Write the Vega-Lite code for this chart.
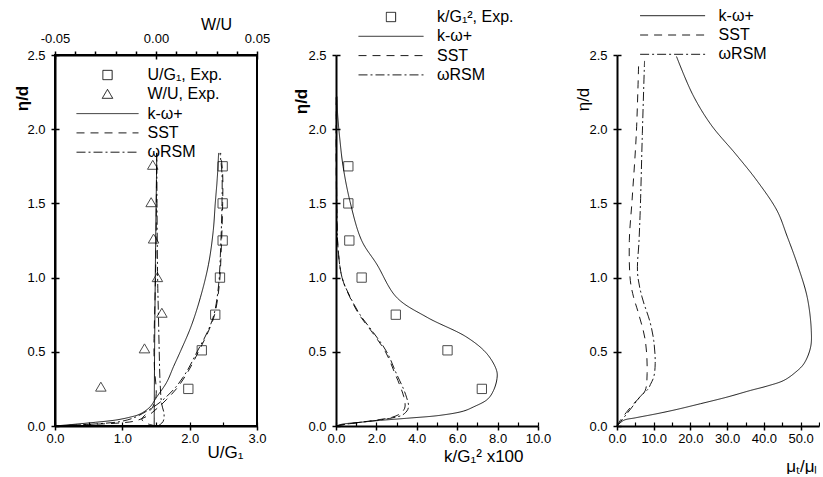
{
  "$schema": "https://vega.github.io/schema/vega-lite/v6.json",
  "padding": {"left": 12, "top": 8, "right": 0, "bottom": 0},
  "config": {
    "font": "Liberation Sans",
    "view": {"stroke": null},
    "axis": {"domainColor": "black", "domainWidth": 2, "tickColor": "black", "tickWidth": 1.5, "labelColor": "black", "labelFontSize": 13, "titleColor": "black", "grid": false, "labelPadding": 6, "labelFlush": false, "titleFontWeight": "normal"},
    "axisBottom": {"labelPadding": 2.5},
    "legend": {"labelFontSize": 16, "labelColor": "black", "symbolStrokeColor": "black", "symbolStrokeWidth": 1, "padding": 0, "clipHeight": 15, "rowPadding": 2.3},
    "line": {"color": "black", "strokeWidth": 0.9, "interpolate": "catmull-rom"},
    "point": {"color": "black", "filled": false, "strokeWidth": 1}
  },
  "resolve": {
    "scale": {"shape": "independent", "strokeDash": "independent", "size": "independent"},
    "legend": {"shape": "independent", "strokeDash": "independent", "size": "independent"}
  },
  "datasets": {
    "u_exp": [
      {"series": "U/G₁, Exp.", "eta": 0.25, "u": 1.98},
      {"series": "U/G₁, Exp.", "eta": 0.51, "u": 2.18},
      {"series": "U/G₁, Exp.", "eta": 0.75, "u": 2.38},
      {"series": "U/G₁, Exp.", "eta": 1.0, "u": 2.45},
      {"series": "U/G₁, Exp.", "eta": 1.25, "u": 2.49},
      {"series": "U/G₁, Exp.", "eta": 1.5, "u": 2.49},
      {"series": "U/G₁, Exp.", "eta": 1.75, "u": 2.49}
    ],
    "w_exp": [
      {"series": "W/U, Exp.", "eta": 0.262, "w": -0.0273},
      {"series": "W/U, Exp.", "eta": 0.52, "w": -0.0057},
      {"series": "W/U, Exp.", "eta": 0.76, "w": 0.0029},
      {"series": "W/U, Exp.", "eta": 1.0, "w": 0.0007},
      {"series": "W/U, Exp.", "eta": 1.26, "w": -0.0012},
      {"series": "W/U, Exp.", "eta": 1.505, "w": -0.0024},
      {"series": "W/U, Exp.", "eta": 1.757, "w": -0.0016}
    ],
    "u_model": [
      {"series": "k-ω+", "eta": 0, "u": 0},
      {"series": "k-ω+", "eta": 0.012, "u": 0.3},
      {"series": "k-ω+", "eta": 0.025, "u": 0.6},
      {"series": "k-ω+", "eta": 0.04, "u": 0.9},
      {"series": "k-ω+", "eta": 0.058, "u": 1.1},
      {"series": "k-ω+", "eta": 0.08, "u": 1.26},
      {"series": "k-ω+", "eta": 0.128, "u": 1.41},
      {"series": "k-ω+", "eta": 0.195, "u": 1.51},
      {"series": "k-ω+", "eta": 0.296, "u": 1.66},
      {"series": "k-ω+", "eta": 0.4, "u": 1.76},
      {"series": "k-ω+", "eta": 0.5, "u": 1.86},
      {"series": "k-ω+", "eta": 0.67, "u": 2.02},
      {"series": "k-ω+", "eta": 0.867, "u": 2.16},
      {"series": "k-ω+", "eta": 1.09, "u": 2.28},
      {"series": "k-ω+", "eta": 1.315, "u": 2.35},
      {"series": "k-ω+", "eta": 1.5, "u": 2.38},
      {"series": "k-ω+", "eta": 1.67, "u": 2.41},
      {"series": "k-ω+", "eta": 1.84, "u": 2.43},
      {"series": "SST", "eta": 0, "u": 0},
      {"series": "SST", "eta": 0.01, "u": 0.5},
      {"series": "SST", "eta": 0.022, "u": 1.0},
      {"series": "SST", "eta": 0.035, "u": 1.2},
      {"series": "SST", "eta": 0.07, "u": 1.38},
      {"series": "SST", "eta": 0.12, "u": 1.52},
      {"series": "SST", "eta": 0.18, "u": 1.66},
      {"series": "SST", "eta": 0.26, "u": 1.82},
      {"series": "SST", "eta": 0.37, "u": 1.98},
      {"series": "SST", "eta": 0.5, "u": 2.13},
      {"series": "SST", "eta": 0.63, "u": 2.27},
      {"series": "SST", "eta": 0.75, "u": 2.37},
      {"series": "SST", "eta": 0.95, "u": 2.44},
      {"series": "SST", "eta": 1.2, "u": 2.47},
      {"series": "SST", "eta": 1.5, "u": 2.49},
      {"series": "SST", "eta": 1.7, "u": 2.49},
      {"series": "SST", "eta": 1.84, "u": 2.46},
      {"series": "ωRSM", "eta": 0, "u": 0},
      {"series": "ωRSM", "eta": 0.006, "u": 0.3},
      {"series": "ωRSM", "eta": 0.016, "u": 0.67},
      {"series": "ωRSM", "eta": 0.03, "u": 0.97},
      {"series": "ωRSM", "eta": 0.055, "u": 1.17},
      {"series": "ωRSM", "eta": 0.1, "u": 1.36},
      {"series": "ωRSM", "eta": 0.16, "u": 1.56},
      {"series": "ωRSM", "eta": 0.26, "u": 1.79},
      {"series": "ωRSM", "eta": 0.37, "u": 1.96},
      {"series": "ωRSM", "eta": 0.5, "u": 2.11},
      {"series": "ωRSM", "eta": 0.63, "u": 2.26},
      {"series": "ωRSM", "eta": 0.75, "u": 2.36},
      {"series": "ωRSM", "eta": 0.95, "u": 2.43},
      {"series": "ωRSM", "eta": 1.2, "u": 2.46},
      {"series": "ωRSM", "eta": 1.5, "u": 2.48},
      {"series": "ωRSM", "eta": 1.7, "u": 2.48},
      {"series": "ωRSM", "eta": 1.84, "u": 2.45}
    ],
    "w_model": [
      {"series": "k-ω+", "eta": 0, "w": -0.0009},
      {"series": "k-ω+", "eta": 0.5, "w": -0.0007},
      {"series": "k-ω+", "eta": 1.2, "w": -0.0002},
      {"series": "k-ω+", "eta": 1.84, "w": 0.0004},
      {"series": "SST", "eta": 0, "w": 0.0},
      {"series": "SST", "eta": 0.02, "w": -0.005},
      {"series": "SST", "eta": 0.045, "w": -0.007},
      {"series": "SST", "eta": 0.08, "w": -0.005},
      {"series": "SST", "eta": 0.12, "w": -0.002},
      {"series": "SST", "eta": 0.2, "w": 0.0},
      {"series": "SST", "eta": 0.4, "w": -0.0008},
      {"series": "SST", "eta": 0.55, "w": -0.001},
      {"series": "SST", "eta": 0.85, "w": -0.0005},
      {"series": "SST", "eta": 1.2, "w": 0.0},
      {"series": "SST", "eta": 1.84, "w": 0.0003},
      {"series": "ωRSM", "eta": 0, "w": 0.001},
      {"series": "ωRSM", "eta": 0.03, "w": 0.0035},
      {"series": "ωRSM", "eta": 0.08, "w": 0.004},
      {"series": "ωRSM", "eta": 0.15, "w": 0.0028},
      {"series": "ωRSM", "eta": 0.3, "w": 0.002},
      {"series": "ωRSM", "eta": 0.5, "w": 0.0016},
      {"series": "ωRSM", "eta": 0.75, "w": 0.0012},
      {"series": "ωRSM", "eta": 1.0, "w": 0.0008},
      {"series": "ωRSM", "eta": 1.5, "w": 0.0005},
      {"series": "ωRSM", "eta": 1.84, "w": 0.0004}
    ],
    "k_exp": [
      {"series": "k/G₁², Exp.", "eta": 0.25, "k": 7.22},
      {"series": "k/G₁², Exp.", "eta": 0.51, "k": 5.52},
      {"series": "k/G₁², Exp.", "eta": 0.75, "k": 2.96},
      {"series": "k/G₁², Exp.", "eta": 1.0, "k": 1.27},
      {"series": "k/G₁², Exp.", "eta": 1.25, "k": 0.66},
      {"series": "k/G₁², Exp.", "eta": 1.5, "k": 0.61},
      {"series": "k/G₁², Exp.", "eta": 1.75, "k": 0.61}
    ],
    "k_model": [
      {"series": "k-ω+", "eta": 0, "k": 0},
      {"series": "k-ω+", "eta": 0.012, "k": 0.3},
      {"series": "k-ω+", "eta": 0.025, "k": 1.2},
      {"series": "k-ω+", "eta": 0.038, "k": 2.2},
      {"series": "k-ω+", "eta": 0.052, "k": 3.5},
      {"series": "k-ω+", "eta": 0.072, "k": 5.16},
      {"series": "k-ω+", "eta": 0.1, "k": 6.3},
      {"series": "k-ω+", "eta": 0.128, "k": 6.8},
      {"series": "k-ω+", "eta": 0.18, "k": 7.5},
      {"series": "k-ω+", "eta": 0.24, "k": 7.8},
      {"series": "k-ω+", "eta": 0.32, "k": 7.97},
      {"series": "k-ω+", "eta": 0.374, "k": 7.95},
      {"series": "k-ω+", "eta": 0.487, "k": 7.47},
      {"series": "k-ω+", "eta": 0.598, "k": 6.48},
      {"series": "k-ω+", "eta": 0.733, "k": 4.5},
      {"series": "k-ω+", "eta": 0.867, "k": 3.0},
      {"series": "k-ω+", "eta": 1.09, "k": 2.02},
      {"series": "k-ω+", "eta": 1.25, "k": 1.27},
      {"series": "k-ω+", "eta": 1.515, "k": 0.69},
      {"series": "k-ω+", "eta": 1.75, "k": 0.35},
      {"series": "k-ω+", "eta": 1.92, "k": 0.2},
      {"series": "k-ω+", "eta": 2.1, "k": 0.08},
      {"series": "k-ω+", "eta": 2.22, "k": 0.05},
      {"series": "SST", "eta": 0, "k": 0},
      {"series": "SST", "eta": 0.012, "k": 0.5},
      {"series": "SST", "eta": 0.025, "k": 1.2},
      {"series": "SST", "eta": 0.04, "k": 2.0},
      {"series": "SST", "eta": 0.06, "k": 2.8},
      {"series": "SST", "eta": 0.085, "k": 3.2},
      {"series": "SST", "eta": 0.12, "k": 3.4},
      {"series": "SST", "eta": 0.15, "k": 3.42},
      {"series": "SST", "eta": 0.2, "k": 3.35},
      {"series": "SST", "eta": 0.26, "k": 3.2},
      {"series": "SST", "eta": 0.36, "k": 2.9},
      {"series": "SST", "eta": 0.5, "k": 2.45},
      {"series": "SST", "eta": 0.63, "k": 1.8},
      {"series": "SST", "eta": 0.75, "k": 1.15},
      {"series": "SST", "eta": 0.87, "k": 0.68},
      {"series": "SST", "eta": 1.0, "k": 0.3},
      {"series": "SST", "eta": 1.2, "k": 0.1},
      {"series": "SST", "eta": 1.5, "k": 0.03},
      {"series": "SST", "eta": 1.8, "k": 0.01},
      {"series": "SST", "eta": 2.23, "k": 0.01},
      {"series": "ωRSM", "eta": 0, "k": 0},
      {"series": "ωRSM", "eta": 0.012, "k": 0.5},
      {"series": "ωRSM", "eta": 0.025, "k": 1.2},
      {"series": "ωRSM", "eta": 0.038, "k": 2.02},
      {"series": "ωRSM", "eta": 0.055, "k": 2.8},
      {"series": "ωRSM", "eta": 0.075, "k": 3.3},
      {"series": "ωRSM", "eta": 0.11, "k": 3.55},
      {"series": "ωRSM", "eta": 0.14, "k": 3.59},
      {"series": "ωRSM", "eta": 0.19, "k": 3.5},
      {"series": "ωRSM", "eta": 0.25, "k": 3.34},
      {"series": "ωRSM", "eta": 0.35, "k": 3.0},
      {"series": "ωRSM", "eta": 0.5, "k": 2.51},
      {"series": "ωRSM", "eta": 0.63, "k": 1.85},
      {"series": "ωRSM", "eta": 0.75, "k": 1.19},
      {"series": "ωRSM", "eta": 0.87, "k": 0.7},
      {"series": "ωRSM", "eta": 1.0, "k": 0.3},
      {"series": "ωRSM", "eta": 1.2, "k": 0.1},
      {"series": "ωRSM", "eta": 1.5, "k": 0.04},
      {"series": "ωRSM", "eta": 1.8, "k": 0.02},
      {"series": "ωRSM", "eta": 2.23, "k": 0.02}
    ],
    "mu_model": [
      {"series": "k-ω+", "eta": 0, "mu": 0},
      {"series": "k-ω+", "eta": 0.038, "mu": 1.8},
      {"series": "k-ω+", "eta": 0.055, "mu": 5},
      {"series": "k-ω+", "eta": 0.083, "mu": 10.9},
      {"series": "k-ω+", "eta": 0.11, "mu": 16},
      {"series": "k-ω+", "eta": 0.15, "mu": 22.7},
      {"series": "k-ω+", "eta": 0.195, "mu": 30},
      {"series": "k-ω+", "eta": 0.24, "mu": 36.4},
      {"series": "k-ω+", "eta": 0.27, "mu": 41},
      {"series": "k-ω+", "eta": 0.307, "mu": 45.4},
      {"series": "k-ω+", "eta": 0.36, "mu": 48.5},
      {"series": "k-ω+", "eta": 0.42, "mu": 50.9},
      {"series": "k-ω+", "eta": 0.53, "mu": 52.7},
      {"series": "k-ω+", "eta": 0.643, "mu": 52.9},
      {"series": "k-ω+", "eta": 0.867, "mu": 51.8},
      {"series": "k-ω+", "eta": 1.09, "mu": 49.1},
      {"series": "k-ω+", "eta": 1.28, "mu": 46.3},
      {"series": "k-ω+", "eta": 1.45, "mu": 43.6},
      {"series": "k-ω+", "eta": 1.65, "mu": 38.2},
      {"series": "k-ω+", "eta": 1.83, "mu": 32.4},
      {"series": "k-ω+", "eta": 2.03, "mu": 25.6},
      {"series": "k-ω+", "eta": 2.234, "mu": 20.6},
      {"series": "k-ω+", "eta": 2.49, "mu": 16.2},
      {"series": "SST", "eta": 0, "mu": 0},
      {"series": "SST", "eta": 0.038, "mu": 0.9},
      {"series": "SST", "eta": 0.09, "mu": 2.5},
      {"series": "SST", "eta": 0.15, "mu": 4.5},
      {"series": "SST", "eta": 0.2, "mu": 6.5},
      {"series": "SST", "eta": 0.24, "mu": 7.7},
      {"series": "SST", "eta": 0.354, "mu": 8.2},
      {"series": "SST", "eta": 0.576, "mu": 7.7},
      {"series": "SST", "eta": 0.755, "mu": 5.9},
      {"series": "SST", "eta": 0.87, "mu": 4.5},
      {"series": "SST", "eta": 0.98, "mu": 3.63},
      {"series": "SST", "eta": 1.25, "mu": 3.36},
      {"series": "SST", "eta": 1.52, "mu": 4.1},
      {"series": "SST", "eta": 1.97, "mu": 5.26},
      {"series": "SST", "eta": 2.45, "mu": 5.9},
      {"series": "ωRSM", "eta": 0, "mu": 0},
      {"series": "ωRSM", "eta": 0.03, "mu": 1.0},
      {"series": "ωRSM", "eta": 0.083, "mu": 2.7},
      {"series": "ωRSM", "eta": 0.14, "mu": 4.5},
      {"series": "ωRSM", "eta": 0.2, "mu": 6.35},
      {"series": "ωRSM", "eta": 0.25, "mu": 8.5},
      {"series": "ωRSM", "eta": 0.28, "mu": 9.1},
      {"series": "ωRSM", "eta": 0.33, "mu": 10.0},
      {"series": "ωRSM", "eta": 0.42, "mu": 10.4},
      {"series": "ωRSM", "eta": 0.576, "mu": 10.0},
      {"series": "ωRSM", "eta": 0.7, "mu": 9.0},
      {"series": "ωRSM", "eta": 0.87, "mu": 6.8},
      {"series": "ωRSM", "eta": 1.03, "mu": 5.6},
      {"series": "ωRSM", "eta": 1.25, "mu": 6.0},
      {"series": "ωRSM", "eta": 1.47, "mu": 6.35},
      {"series": "ωRSM", "eta": 1.97, "mu": 6.9},
      {"series": "ωRSM", "eta": 2.46, "mu": 7.5}
    ]
  },
  "hconcat": [
    {
      "width": 202,
      "height": 371,
      "view": {"stroke": "black", "strokeWidth": 2},
      "resolve": {"scale": {"x": "independent"}, "axis": {"x": "independent", "y": "independent"}},
      "layer": [
        {
          "data": {"name": "u_model"},
          "mark": "line",
          "encoding": {
            "x": {"field": "u", "type": "quantitative", "scale": {"domain": [0, 3], "nice": false},
              "axis": {"orient": "bottom", "values": [0, 1, 2, 3], "format": ".1f", "tickSize": 4, "title": "U/G₁", "titleX": 188, "titleY": 31, "titleAlign": "right", "titleBaseline": "alphabetic", "titleFontSize": 17}},
            "y": {"field": "eta", "type": "quantitative", "scale": {"domain": [0, 2.5], "nice": false},
              "axis": {"orient": "left", "values": [0, 0.5, 1, 1.5, 2, 2.5], "format": ".1f", "tickSize": 4, "title": "η/d", "titleAngle": 270, "titleX": -33, "titleY": 43, "titleAlign": "center", "titleBaseline": "middle", "titleFontSize": 17, "titleFontWeight": "bold"}},
            "order": {"field": "eta", "type": "quantitative"},
            "strokeDash": {"field": "series", "type": "nominal",
              "scale": {"domain": ["U/G₁, Exp.", "W/U, Exp.", "k-ω+", "SST", "ωRSM"], "range": [[1, 0], [1, 0], [1, 0], [8, 6], [9, 3, 2, 3]]},
              "legend": {"title": null, "orient": "none", "legendX": 21, "legendY": 12.5, "labelOffset": 8.5, "symbolSize": 3844}}
          }
        },
        {
          "data": {"name": "u_exp"},
          "mark": {"type": "point", "size": 3844},
          "encoding": {
            "x": {"field": "u", "type": "quantitative", "scale": {"domain": [0, 3], "nice": false}, "axis": null},
            "y": {"field": "eta", "type": "quantitative", "scale": {"domain": [0, 2.5], "nice": false}, "axis": null},
            "shape": {"field": "series", "type": "nominal",
              "scale": {"domain": ["U/G₁, Exp.", "W/U, Exp.", "k-ω+", "SST", "ωRSM"], "range": ["M-0.15,-0.15H0.15V0.15H-0.15Z", "M0,-0.16L0.17,0.13L-0.17,0.13Z", "M-1,0H1", "M-1,0H1", "M-1,0H1"]},
              "legend": {"title": null, "orient": "none", "legendX": 21, "legendY": 12.5, "labelOffset": 8.5, "symbolSize": 3844}}
          }
        },
        {
          "data": {"name": "w_model"},
          "mark": "line",
          "encoding": {
            "x": {"field": "w", "type": "quantitative", "scale": {"domain": [-0.05, 0.05], "nice": false},
              "axis": {"orient": "top", "values": [-0.05, -0.04, -0.03, -0.02, -0.01, 0, 0.01, 0.02, 0.03, 0.04, 0.05], "tickSize": 4, "labelExpr": "datum.value == -0.05 ? '-0.05' : datum.value == 0 ? '0.00' : datum.value == 0.05 ? '0.05' : ''", "title": "W/U", "titleX": 161, "titleY": -26, "titleAlign": "center", "titleBaseline": "alphabetic", "titleFontSize": 16}},
            "y": {"field": "eta", "type": "quantitative", "scale": {"domain": [0, 2.5], "nice": false}, "axis": null},
            "order": {"field": "eta", "type": "quantitative"},
            "strokeDash": {"field": "series", "type": "nominal",
              "scale": {"domain": ["U/G₁, Exp.", "W/U, Exp.", "k-ω+", "SST", "ωRSM"], "range": [[1, 0], [1, 0], [1, 0], [8, 6], [9, 3, 2, 3]]},
              "legend": {"title": null, "orient": "none", "legendX": 21, "legendY": 12.5, "labelOffset": 8.5, "symbolSize": 3844}}
          }
        },
        {
          "data": {"name": "w_exp"},
          "mark": {"type": "point", "size": 3844},
          "encoding": {
            "x": {"field": "w", "type": "quantitative", "scale": {"domain": [-0.05, 0.05], "nice": false}, "axis": null},
            "y": {"field": "eta", "type": "quantitative", "scale": {"domain": [0, 2.5], "nice": false}, "axis": null},
            "shape": {"field": "series", "type": "nominal",
              "scale": {"domain": ["U/G₁, Exp.", "W/U, Exp.", "k-ω+", "SST", "ωRSM"], "range": ["M-0.15,-0.15H0.15V0.15H-0.15Z", "M0,-0.16L0.17,0.13L-0.17,0.13Z", "M-1,0H1", "M-1,0H1", "M-1,0H1"]},
              "legend": {"title": null, "orient": "none", "legendX": 21, "legendY": 12.5, "labelOffset": 8.5, "symbolSize": 3844}}
          }
        },
        {
          "data": {"name": "u_exp"},
          "mark": {"type": "point", "opacity": 0},
          "encoding": {
            "x": {"field": "u", "type": "quantitative", "scale": {"domain": [0, 3], "nice": false},
              "axis": {"orient": "bottom", "values": [0, 0.5, 1, 1.5, 2, 2.5, 3], "tickSize": -4, "tickWidth": 1.2, "labels": false, "domain": false, "title": null}},
            "y": {"field": "eta", "type": "quantitative", "scale": {"domain": [0, 2.5], "nice": false},
              "axis": {"orient": "left", "values": [0, 0.5, 1, 1.5, 2, 2.5], "tickSize": -4, "labels": false, "domain": false, "title": null}}
          }
        },
        {
          "data": {"name": "w_exp"},
          "mark": {"type": "point", "opacity": 0},
          "encoding": {
            "x": {"field": "w", "type": "quantitative", "scale": {"domain": [-0.05, 0.05], "nice": false},
              "axis": {"orient": "top", "values": [-0.05, 0, 0.05], "tickSize": -4, "labels": false, "domain": false, "title": null}},
            "y": {"field": "eta", "type": "quantitative", "scale": {"domain": [0, 2.5], "nice": false}, "axis": null}
          }
        }
      ]
    },
    {
      "width": 202,
      "height": 371,
      "resolve": {"axis": {"x": "independent", "y": "independent"}},
      "layer": [
        {
          "data": {"name": "k_model"},
          "mark": "line",
          "encoding": {
            "x": {"field": "k", "type": "quantitative", "scale": {"domain": [0, 10], "nice": false},
              "axis": {"orient": "bottom", "values": [0, 2, 4, 6, 8, 10], "format": ".1f", "tickSize": 4, "title": "k/G₁² x100", "titleX": 187, "titleY": 35, "titleAlign": "right", "titleBaseline": "alphabetic", "titleFontSize": 17}},
            "y": {"field": "eta", "type": "quantitative", "scale": {"domain": [0, 2.5], "nice": false},
              "axis": {"orient": "left", "values": [0, 0.5, 1, 1.5, 2, 2.5], "format": ".1f", "tickSize": 4, "title": "η/d", "titleAngle": 270, "titleX": -35, "titleY": 46, "titleAlign": "center", "titleBaseline": "middle", "titleFontSize": 17, "titleFontWeight": "bold"}},
            "order": {"field": "eta", "type": "quantitative"},
            "strokeDash": {"field": "series", "type": "nominal",
              "scale": {"domain": ["k/G₁², Exp.", "k-ω+", "SST", "ωRSM"], "range": [[1, 0], [1, 0], [8, 6], [9, 3, 2, 3]]},
              "legend": {"title": null, "orient": "none", "legendX": 22, "legendY": -45.5, "labelOffset": 13, "symbolSize": 4225}}
          }
        },
        {
          "data": {"name": "k_exp"},
          "mark": {"type": "point", "size": 4225},
          "encoding": {
            "x": {"field": "k", "type": "quantitative", "scale": {"domain": [0, 10], "nice": false}, "axis": null},
            "y": {"field": "eta", "type": "quantitative", "scale": {"domain": [0, 2.5], "nice": false}, "axis": null},
            "shape": {"field": "series", "type": "nominal",
              "scale": {"domain": ["k/G₁², Exp.", "k-ω+", "SST", "ωRSM"], "range": ["M-0.143,-0.143H0.143V0.143H-0.143Z", "M-1,0H1", "M-1,0H1", "M-1,0H1"]},
              "legend": {"title": null, "orient": "none", "legendX": 22, "legendY": -45.5, "labelOffset": 13, "symbolSize": 4225}}
          }
        },
        {
          "data": {"name": "k_exp"},
          "mark": {"type": "point", "opacity": 0},
          "encoding": {
            "x": {"field": "k", "type": "quantitative", "scale": {"domain": [0, 10], "nice": false},
              "axis": {"orient": "bottom", "values": [0, 1, 2, 3, 4, 5, 6, 7, 8, 9, 10], "tickSize": -4, "tickWidth": 1.2, "labels": false, "domain": false, "title": null}},
            "y": {"field": "eta", "type": "quantitative", "scale": {"domain": [0, 2.5], "nice": false},
              "axis": {"orient": "left", "values": [0, 0.5, 1, 1.5, 2, 2.5], "tickSize": -4, "labels": false, "domain": false, "title": null}}
          }
        }
      ]
    },
    {
      "width": 202,
      "height": 371,
      "resolve": {"axis": {"x": "independent", "y": "independent"}},
      "layer": [
        {
          "data": {"name": "mu_model"},
          "mark": "line",
          "encoding": {
            "x": {"field": "mu", "type": "quantitative", "scale": {"domain": [0, 55], "nice": false},
              "axis": {"orient": "bottom", "values": [0, 10, 20, 30, 40, 50], "format": ".1f", "tickSize": 4, "title": "μₜ/μₗ", "titleX": 200, "titleY": 45, "titleAlign": "right", "titleBaseline": "alphabetic", "titleFontSize": 17}},
            "y": {"field": "eta", "type": "quantitative", "scale": {"domain": [0, 2.5], "nice": false},
              "axis": {"orient": "left", "values": [0, 0.5, 1, 1.5, 2, 2.5], "format": ".1f", "tickSize": 4, "title": "η/d", "titleAngle": 270, "titleX": -34, "titleY": 44, "titleAlign": "center", "titleBaseline": "middle", "titleFontSize": 17}},
            "order": {"field": "eta", "type": "quantitative"},
            "strokeDash": {"field": "series", "type": "nominal",
              "scale": {"domain": ["k-ω+", "SST", "ωRSM"], "range": [[1, 0], [8, 6], [9, 3, 2, 3]]},
              "legend": {"title": null, "orient": "none", "legendX": 22.6, "legendY": -46.8, "labelOffset": 13, "symbolType": "stroke", "symbolSize": 4225}}
          }
        },
        {
          "data": {"name": "mu_model"},
          "mark": {"type": "point", "opacity": 0},
          "encoding": {
            "x": {"field": "mu", "type": "quantitative", "scale": {"domain": [0, 55], "nice": false},
              "axis": {"orient": "bottom", "values": [0, 5, 10, 15, 20, 25, 30, 35, 40, 45, 50, 55], "tickSize": -4, "tickWidth": 1.2, "labels": false, "domain": false, "title": null}},
            "y": {"field": "eta", "type": "quantitative", "scale": {"domain": [0, 2.5], "nice": false},
              "axis": {"orient": "left", "values": [0, 0.5, 1, 1.5, 2, 2.5], "tickSize": -4, "labels": false, "domain": false, "title": null}}
          }
        }
      ]
    }
  ],
  "spacing": 79,
  "bounds": "flush"
}
